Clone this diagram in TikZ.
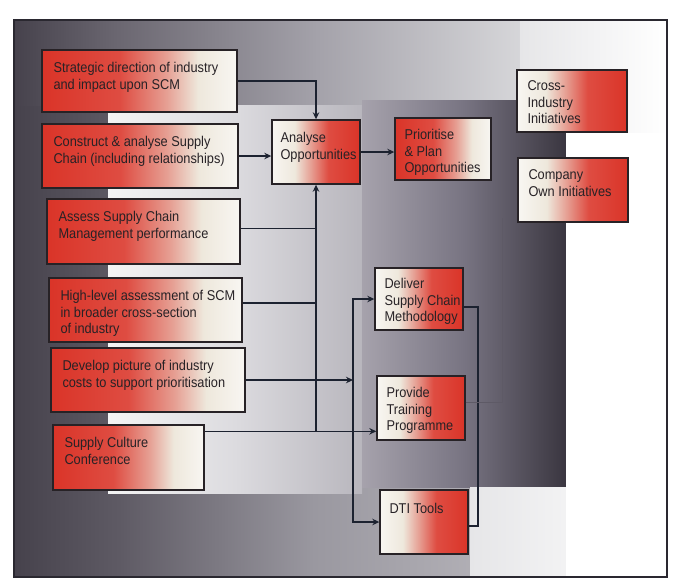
\documentclass[tikz,border=0pt]{standalone}
\usepackage{fontspec}
\setmainfont{Liberation Sans}[FakeStretch=0.9]
\usetikzlibrary{arrows.meta,calc}
\definecolor{bred}{HTML}{DA3428}
\definecolor{cream}{HTML}{EEE8DC}
\definecolor{paper}{HTML}{F8F6F2}
\definecolor{ink}{HTML}{272226}
\definecolor{navy}{HTML}{1C2230}
\definecolor{frameline}{HTML}{2A2830}
\definecolor{c1}{HTML}{46424C}
\definecolor{c2}{HTML}{5E5A64}
\definecolor{c3}{HTML}{9A98A0}
\definecolor{c4}{HTML}{B4B2B8}
\definecolor{c5}{HTML}{E6E6E8}
\definecolor{tb1}{HTML}{6A6670}
\definecolor{tb2}{HTML}{A4A2AA}
\definecolor{tb3}{HTML}{D6D6D9}
\definecolor{lp1}{HTML}{F4F4F4}
\definecolor{lp2}{HTML}{DCDBDF}
\definecolor{lp3}{HTML}{B8B6BD}
\definecolor{dp1}{HTML}{A6A2AC}
\definecolor{dp2}{HTML}{787482}
\definecolor{dp3}{HTML}{3A3640}
\definecolor{faintc}{HTML}{5E5A66}
\pgfdeclarehorizontalshading{redwhite}{100bp}{color(0bp)=(bred); color(25bp)=(bred); color(45bp)=(bred!88!white); color(57bp)=(bred!40!cream); color(65bp)=(cream); color(75bp)=(paper); color(100bp)=(paper)}
\pgfdeclarehorizontalshading{whitered}{100bp}{color(0bp)=(paper); color(25bp)=(paper); color(38bp)=(cream); color(47bp)=(bred!40!cream); color(57bp)=(bred!88!white); color(75bp)=(bred); color(100bp)=(bred)}
\pgfdeclarehorizontalshading{framebg}{100bp}{color(0bp)=(c1); color(25bp)=(c1); color(33bp)=(c2); color(48bp)=(c3); color(62bp)=(c4); color(75bp)=(c5); color(100bp)=(c5)}
\pgfdeclarehorizontalshading{topband}{100bp}{color(0bp)=(c1); color(25bp)=(c1); color(35bp)=(tb1); color(55bp)=(tb2); color(75bp)=(tb3); color(100bp)=(tb3)}
\pgfdeclarehorizontalshading{lightpanel}{100bp}{color(0bp)=(lp1); color(25bp)=(lp1); color(50bp)=(lp2); color(75bp)=(lp3); color(100bp)=(lp3)}
\pgfdeclarehorizontalshading{darkpanel}{100bp}{color(0bp)=(dp1); color(25bp)=(dp1); color(50bp)=(dp2); color(75bp)=(dp3); color(100bp)=(dp3)}
\pgfdeclarehorizontalshading{lightright}{100bp}{color(0bp)=(c5); color(25bp)=(c5); color(75bp)=(white); color(100bp)=(white)}
\begin{document}
\begin{tikzpicture}[x=1pt,y=-1pt,
  box/.style={draw=ink,line width=1.4pt,inner sep=0pt,rectangle},
  lbox/.style={box,shading=redwhite},
  rbox/.style={box,shading=whitered},
  txt/.style={anchor=north west,inner sep=0pt,align=left,text=ink,
    font=\fontsize{14.2}{16.6}\selectfont},
  conn/.style={draw=navy,line width=1.6pt,-{Stealth[length=7pt,width=6.5pt]}},
  plain/.style={draw=navy,line width=1.6pt},
  faint/.style={draw=faintc,line width=0.6pt}]
\useasboundingbox (0,0) rectangle (682,587);
\fill[white] (0,0) rectangle (682,587);
% backgrounds
\shade[shading=framebg] (14,20) rectangle (667,577);
\shade[shading=topband] (14,20) rectangle (520,105);
\shade[shading=lightpanel] (108,105) rectangle (362,493);
\shade[shading=darkpanel] (362,100) rectangle (566,487);
\shade[shading=lightright] (470,487) rectangle (667,577);
\fill[white] (566,132) rectangle (667,577);
\shade[shading=lightright] (520,20) rectangle (667,132);
\draw[frameline,line width=2.6pt] (14,20) rectangle (667,577);
% left column boxes
\node[lbox,minimum width=195pt,minimum height=62pt] (strat) at (139.5,81) {};
\node[lbox,minimum width=196pt,minimum height=64pt] (constr) at (140,156) {};
\node[lbox,minimum width=193pt,minimum height=65pt] (assess) at (143.5,231.5) {};
\node[lbox,minimum width=193pt,minimum height=64pt] (high) at (145.5,310) {};
\node[lbox,minimum width=194pt,minimum height=64pt] (devel) at (148,380) {};
\node[lbox,minimum width=151pt,minimum height=65pt] (culture) at (128.5,457.5) {};
% middle and right boxes
\node[rbox,minimum width=88pt,minimum height=64pt] (analyse) at (316,152) {};
\node[lbox,minimum width=96pt,minimum height=62pt] (prior) at (443,149) {};
\node[rbox,minimum width=110pt,minimum height=62pt] (cross) at (572,101) {};
\node[rbox,minimum width=110pt,minimum height=64pt] (company) at (573,190) {};
\node[rbox,minimum width=88pt,minimum height=62pt] (deliver) at (419,299) {};
\node[rbox,minimum width=88pt,minimum height=64pt] (provide) at (421,408) {};
\node[rbox,minimum width=88pt,minimum height=64pt] (dti) at (424,522) {};
% texts
\node[txt] (stratT) at ([xshift=12pt,yshift=-13pt]strat.north west) {Strategic direction of industry\\and impact upon SCM};
\node[txt] (constrT) at ([xshift=12pt,yshift=-13pt]constr.north west) {Construct \& analyse Supply\\Chain (including relationships)};
\node[txt] (assessT) at ([xshift=12pt,yshift=-13pt]assess.north west) {Assess Supply Chain\\Management performance};
\node[txt] (highT) at ([xshift=12pt,yshift=-13pt]high.north west) {High-level assessment of SCM\\in broader cross-section\\of industry};
\node[txt] (develT) at ([xshift=12pt,yshift=-13pt]devel.north west) {Develop picture of industry\\costs to support prioritisation};
\node[txt] (cultureT) at ([xshift=12pt,yshift=-13pt]culture.north west) {Supply Culture\\Conference};
\node[txt] (analyseT) at ([xshift=9pt,yshift=-13pt]analyse.north west) {Analyse\\Opportunities};
\node[txt] (priorT) at ([xshift=10pt,yshift=-12pt]prior.north west) {Prioritise\\\& Plan\\Opportunities};
\node[txt] (crossT) at ([xshift=11pt,yshift=-11pt]cross.north west) {Cross-\\Industry\\Initiatives};
\node[txt] (companyT) at ([xshift=11pt,yshift=-12pt]company.north west) {Company\\Own Initiatives};
\node[txt] (deliverT) at ([xshift=10pt,yshift=-11pt]deliver.north west) {Deliver\\Supply Chain\\Methodology};
\node[txt] (provideT) at ([xshift=10pt,yshift=-12pt]provide.north west) {Provide\\Training\\Programme};
\node[txt] (dtiT) at ([xshift=10pt,yshift=-14pt]dti.north west) {DTI Tools};
% helper coordinates
\coordinate (cu) at ([yshift=-7pt]culture.north east);
\coordinate (bus) at (353,300);
\coordinate (rx) at (478,300);
\coordinate (fx) at (502,218);
% connectors
\draw[conn] (strat.east) -| (analyse.north);
\draw[conn] (constr.east) -- (constr.east -| analyse.west);
\draw[conn] (analyse.east) -- (analyse.east -| prior.west);
\draw[conn] (cu -| analyse.south) -- (analyse.south);
\draw[plain] ([yshift=3pt]assess.east) -- ([yshift=3pt]assess.east -| analyse.south);
\draw[plain] ([yshift=7pt]high.east) -- ([yshift=7pt]high.east -| analyse.south);
\draw[conn] (cu) -- (cu -| provide.west);
\draw[conn] (devel.east) -- (devel.east -| bus);
\draw[conn] (bus |- dti.west) |- (deliver.west);
\draw[conn] (bus |- deliver.west) |- (dti.west);
\draw[plain] ([yshift=-8pt]deliver.east) -| ([yshift=-4pt]dti.east -| rx) -- ([yshift=-4pt]dti.east);
\draw[faint] ([yshift=6pt]provide.east) -- ([yshift=6pt]provide.east -| fx) -- (fx);
\end{tikzpicture}
\end{document}
